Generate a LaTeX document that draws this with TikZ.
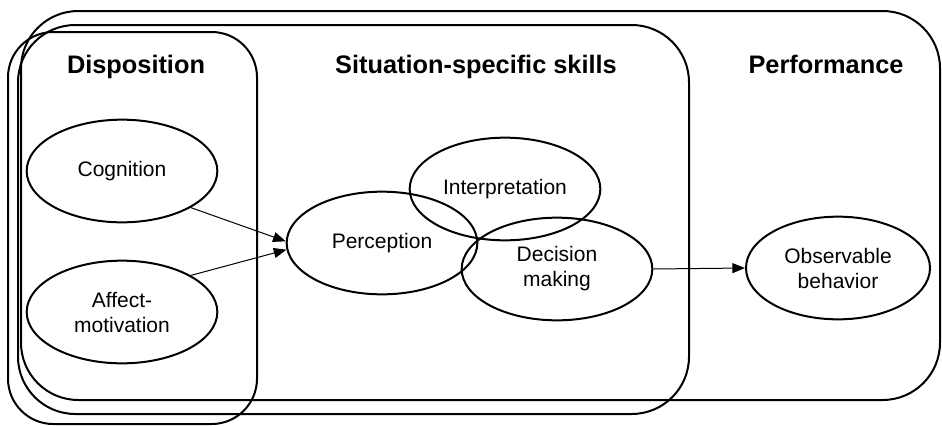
\documentclass[tikz,border=0pt]{standalone}
\usepackage{fontspec}
\setmainfont{Liberation Sans}
\usetikzlibrary{shapes.geometric,arrows.meta}

\tikzset{every picture/.style={line width=0.75pt}}
\tikzset{
  stage/.style={line width=1.5pt, rounded corners=43pt},
  skill/.style={ellipse, draw, line width=1.5pt, minimum width=143pt, minimum height=77pt,
    inner sep=0pt, align=center, font=\fontsize{15.75}{18.75}\selectfont},
  heading/.style={anchor=base, inner sep=0.75pt, font=\fontsize{19}{23}\selectfont\bfseries},
  link/.style={-{Triangle[length=9.5pt,width=7.5pt]}, line width=0.75pt}
}

\begin{document}
\begin{tikzpicture}[x=0.75pt,y=0.75pt,yscale=-1,xscale=1]
        \useasboundingbox (0,0) rectangle (942,425);

        %Rounded Rect: performance
        \draw [stage]   (21,11) rectangle (940,400) ;
        %Rounded Rect: situation-specific skills
        \draw [stage]   (18,25) rectangle (689,414) ;
        %Rounded Rect: disposition
        \draw [stage, rounded corners=34pt]   (8,32) rectangle (257,424) ;

        % Text Node
        \node [heading] (dispT) at (136,73) {Disposition};
        % Text Node
        \node [heading] (sitT) at (476,73) {Situation-specific skills};
        % Text Node
        \node [heading] (perfT) at (826,73) {Performance};

        % Ellipses
        \node [skill] (cog) at (122,171) {Cognition};
        \node [skill] (aff) at (122,312) {Affect-\\motivation};
        \node [skill] (perc) at (382,243) {Perception};
        \node [skill] (interp) at (505,189) {Interpretation};
        \node [skill] (dec) at (557,269) {Decision\\making};
        \node [skill, minimum width=138pt] (obs) at (838,268) {Observable\\behavior};

        % Arrows
        \draw [link] (cog.-28) -- (perc.179) ;
        \draw [link] (aff.28) -- (perc.184) ;
        \draw [link] (dec.east) -- (obs.west) ;

\end{tikzpicture}
\end{document}
